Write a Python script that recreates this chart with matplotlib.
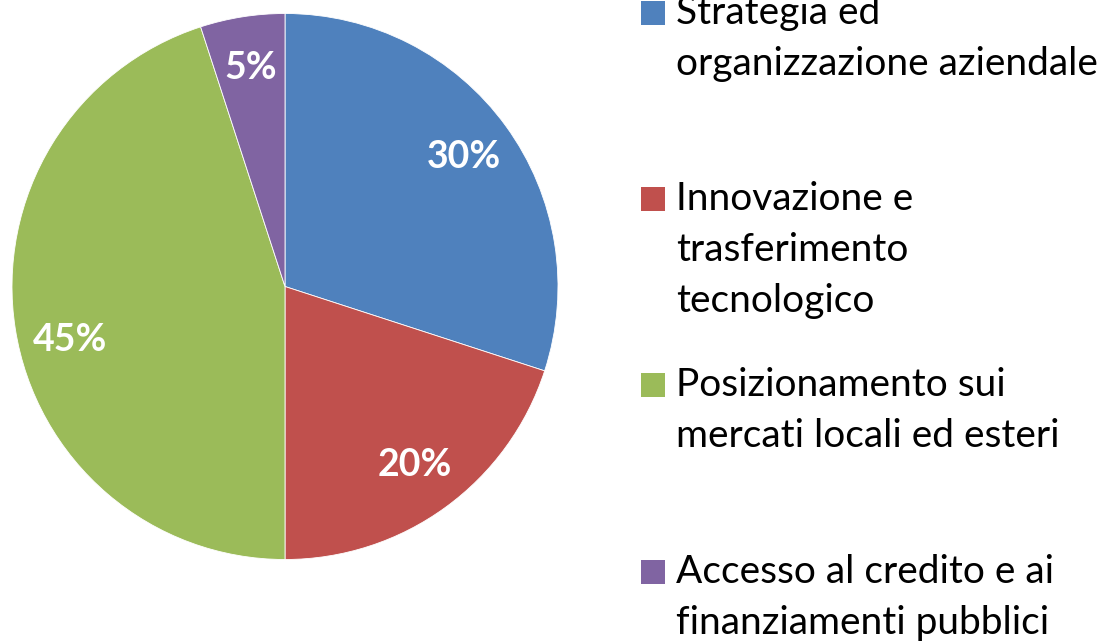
import matplotlib
matplotlib.use("Agg")
import matplotlib.pyplot as plt
from matplotlib.patches import Rectangle
import numpy as np

categories = [
    "Strategia ed\norganizzazione aziendale",
    "Innovazione e\ntrasferimento\ntecnologico",
    "Posizionamento sui\nmercati locali ed esteri",
    "Accesso al credito e ai\nfinanziamenti pubblici",
]
values = [30, 20, 45, 5]
colors = ["#4F81BD", "#C0504D", "#9BBB59", "#8064A2"]

W, H = 1111, 641
fig = plt.figure(figsize=(W / 100, H / 100), dpi=100)
fig.patch.set_facecolor("white")

cx, cy, R = 285, 286.5, 273
ax = fig.add_axes([(cx - R) / W, (H - cy - R) / H, 2 * R / W, 2 * R / H])
wedges, texts, autotexts = ax.pie(
    values, colors=colors, startangle=90, counterclock=False,
    autopct=lambda p: f"{p:.0f}%", pctdistance=0.81, radius=1.0,
    wedgeprops=dict(edgecolor="white", linewidth=0.6),
    textprops=dict(color="white", fontsize=27, fontweight="bold", family="Lato"),
)
# nudge the large-slice label slightly, as the original renderer did
x, y = autotexts[2].get_position()
a = np.deg2rad(5)
autotexts[2].set_position((x * np.cos(a) - y * np.sin(a), x * np.sin(a) + y * np.cos(a)))
ax.set_xlim(-1, 1)
ax.set_ylim(-1, 1)
ax.set_aspect("auto")
ax.axis("off")

# legend drawn manually
first_baselines = [24, 210, 396, 583]
line_step = 51
sq_x, sq_size, text_x = 641, 24, 676
for lab, col, b in zip(categories, colors, first_baselines):
    fig.patches.append(Rectangle((sq_x / W, (H - b - 1) / H), sq_size / W, sq_size / H,
                                 transform=fig.transFigure, facecolor=col, edgecolor="none"))
    for i, line in enumerate(lab.split("\n")):
        fig.text(text_x / W, (H - (b + i * line_step)) / H, line, fontsize=28,
                 family="Lato", color="black", ha="left", va="baseline")

fig.savefig("out.png", dpi=100)
